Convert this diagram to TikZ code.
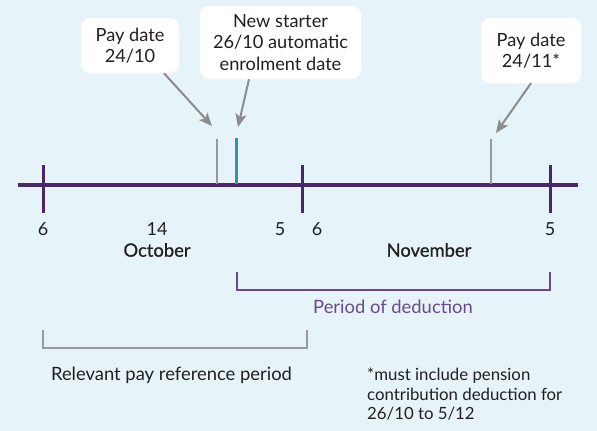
\documentclass[tikz,border=0pt]{standalone}
\usepackage{fontspec}
\setmainfont{Lato}
\newfontfamily\medfont[BoldFont=Lato, BoldFeatures={FakeBold=0.7}]{Lato}
\usetikzlibrary{arrows.meta,calc}
\definecolor{bgc}{HTML}{E6F4FA}
\definecolor{axisc}{HTML}{4B2769}
\definecolor{bluec}{HTML}{3A8DB5}
\definecolor{grayc}{HTML}{999999}
\definecolor{arrc}{HTML}{8C8C8C}
\definecolor{dedc}{HTML}{6A4A8C}
\definecolor{txtc}{HTML}{231F20}
\tikzset{
  callout/.style={fill=white, rounded corners=9pt, inner sep=0pt, align=center, text=txtc,
    font=\fontsize{18.2}{21.5}\selectfont},
  pointer/.style={draw=arrc, line width=2pt, -{Stealth[length=13pt,width=11pt,inset=3pt]}},
  daylabel/.style={text=txtc, font=\fontsize{18}{20}\selectfont},
  monthlabel/.style={text=txtc, font=\medfont\bfseries\fontsize{18.4}{20}\selectfont},
  bigtick/.style={draw=axisc, line width=3pt},
  graytick/.style={draw=grayc, line width=2pt},
  bluetick/.style={draw=bluec, line width=3pt},
  plain/.style={text=txtc, font=\fontsize{18.4}{21}\selectfont}
}
\begin{document}
\begin{tikzpicture}[x=1pt,y=-1pt]
\fill[bgc] (0,0) rectangle (597,431);
\useasboundingbox (0,0) rectangle (597,431);
% callouts
\node[callout, minimum width=98pt, minimum height=55pt] (p1) at (130,45.5) {Pay date\\24/10};
\node[callout, minimum width=161pt, minimum height=73pt] (p2) at (280.5,42.5) {New starter\\26/10 automatic\\enrolment date};
\node[callout, minimum width=100pt, minimum height=65pt] (p3) at (531,50.5) {Pay date\\24/11*};
% axis
\coordinate (axL) at (18,185);
\coordinate (axR) at (578,185);
\draw[draw=axisc, line width=3.5pt] (axL) -- (axR);
\coordinate (t1a) at (43,165); \coordinate (t1b) at (43,213);
\coordinate (t2a) at (302,165); \coordinate (t2b) at (302,213);
\coordinate (t3a) at (550,165); \coordinate (t3b) at (550,213);
\draw[bigtick] (t1a) -- (t1b);
\draw[bigtick] (t2a) -- (t2b);
\draw[bigtick] (t3a) -- (t3b);
\coordinate (g1a) at (217,139); \coordinate (g1b) at (217,184);
\coordinate (b1a) at (236.5,138); \coordinate (b1b) at (236.5,184);
\coordinate (g2a) at (491,139); \coordinate (g2b) at (491,184);
\draw[graytick] (g1a) -- (g1b);
\draw[bluetick] (b1a) -- (b1b);
\draw[graytick] (g2a) -- (g2b);
% pointers
\coordinate (e1) at (212,126);
\coordinate (e2) at (238,127);
\coordinate (e3) at (496,133);
\draw[pointer] ([xshift=34pt]p1.south) -- (e1);
\draw[pointer] ([xshift=-31.5pt]p2.south) -- (e2);
\draw[pointer] (p3.south) -- (e3);
% labels
\node[daylabel] (d1) at (43,229) {6};
\node[daylabel] (d2) at (157,229) {14};
\node[daylabel] (d3) at (280,229) {5};
\node[daylabel] (d4) at (317,229) {6};
\node[daylabel] (d5) at (550,229) {5};
\node[monthlabel] (m1) at (157,250) {October};
\node[monthlabel] (m2) at (429,250) {November};
% period of deduction
\coordinate (k1) at (237,272); \coordinate (k2) at (237,290);
\coordinate (k3) at (550,290); \coordinate (k4) at (550,272);
\draw[draw=dedc, line width=1.2pt] (k1) -- (k2) -- (k3) -- (k4);
\node[text=dedc, font=\fontsize{18.4}{20}\selectfont] (ded) at (393,307) {Period of deduction};
% relevant pay reference period
\coordinate (r1) at (43,330); \coordinate (r2) at (43,348);
\coordinate (r3) at (307,348); \coordinate (r4) at (307,330);
\draw[draw=grayc, line width=1.2pt] (r1) -- (r2) -- (r3) -- (r4);
\node[plain] (rel) at (171.5,375) {Relevant pay reference period};
% footnote
\node[plain, anchor=west, align=left, inner sep=0pt, font=\fontsize{16.8}{19.5}\selectfont] (fn) at (367,394.5) {*must include pension\\contribution deduction for\\26/10 to 5/12};
\end{tikzpicture}
\end{document}
